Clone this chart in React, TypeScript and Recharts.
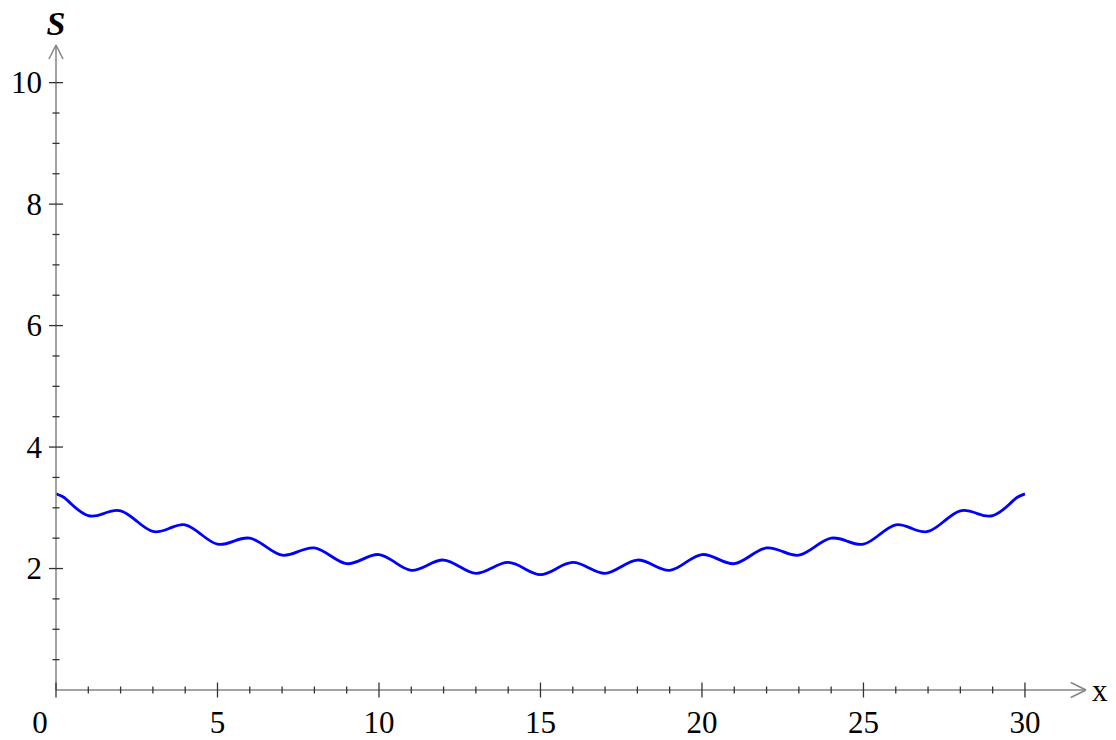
import React from "react";
import { LineChart, Line, XAxis, YAxis, ReferenceLine, ReferenceDot } from "recharts";

// Curve samples (x step 0.5, plus two extra points near the ends)
const X_VALUES = [
  0, 0.25, 0.5, 1, 1.5, 2, 2.5, 3, 3.5, 4, 4.5, 5, 5.5, 6, 6.5, 7, 7.5, 8, 8.5, 9, 9.5,
  10, 10.5, 11, 11.5, 12, 12.5, 13, 13.5, 14, 14.5, 15, 15.5, 16, 16.5, 17, 17.5,
  18, 18.5, 19, 19.5, 20, 20.5, 21, 21.5, 22, 22.5, 23, 23.5, 24, 24.5, 25, 25.5,
  26, 26.5, 27, 27.5, 28, 28.5, 29, 29.5, 29.75, 30,
];
const S_VALUES = [
  3.23, 3.17, 3.05, 2.87, 2.91, 2.95, 2.78, 2.61, 2.66, 2.72, 2.56, 2.4, 2.45, 2.5, 2.36,
  2.22, 2.28, 2.34, 2.21, 2.08, 2.155, 2.23, 2.1, 1.97, 2.055, 2.14, 2.03, 1.92, 2.01,
  2.1, 2.0, 1.9, 2.0, 2.1, 2.01, 1.92, 2.03, 2.14, 2.055, 1.97, 2.1, 2.23, 2.155,
  2.08, 2.21, 2.34, 2.28, 2.22, 2.36, 2.5, 2.45, 2.4, 2.56, 2.72, 2.66, 2.61, 2.78,
  2.95, 2.91, 2.87, 3.05, 3.17, 3.23,
];

const X_TICKS = Array.from({ length: 31 }, (_, i) => i);
const Y_TICKS = Array.from({ length: 20 }, (_, i) => (i + 1) * 0.5);

const X_AXIS_END = 31.89;
const Y_AXIS_END = 10.62;
const X_ARROW_LEN = 0.47;
const X_ARROW_HALF = 0.124;
const Y_ARROW_LEN = 0.23;
const Y_ARROW_HALF = 0.217;

const data = X_VALUES.map((x, i) => ({ x, s: S_VALUES[i] }));

const FONT = "'Liberation Serif', 'Times New Roman', serif";
const AXIS_COLOR = "#858585";
const TICK_COLOR = "#333";

function XTick(props: any) {
  const { x, y, payload } = props;
  const v = payload.value;
  const major = v % 5 === 0;
  const half = major ? 7.5 : 3.5;
  return (
    <g>
      <line x1={x} x2={x} y1={y - half} y2={y + half} stroke={TICK_COLOR} strokeWidth={1.3} />
      {major && (
        <text
          x={x + (v === 0 ? -16 : 0)}
          y={y + 43}
          textAnchor="middle"
          fontFamily={FONT}
          fontSize={31}
          fill="#000"
        >
          {v}
        </text>
      )}
    </g>
  );
}

function YTick(props: any) {
  const { x, y, payload } = props;
  const v = payload.value;
  const major = v % 2 === 0;
  const half = major ? 7 : 3.5;
  return (
    <g>
      <line x1={x - half} x2={x + half} y1={y} y2={y} stroke={TICK_COLOR} strokeWidth={1.3} />
      {major && (
        <text
          x={x - 14}
          y={y + 10.5}
          textAnchor="end"
          fontFamily={FONT}
          fontSize={31}
          fill="#000"
        >
          {v}
        </text>
      )}
    </g>
  );
}

export default function App() {
  return (
    <div style={{ position: "absolute", left: 0, top: 0, width: 1116, height: 740, background: "#fff" }}>
      <LineChart width={1116} height={740} data={data} margin={{ top: 45, right: 30, bottom: 0, left: 0 }}>
        <XAxis
          dataKey="x"
          type="number"
          domain={[0, X_AXIS_END]}
          allowDataOverflow
          ticks={X_TICKS}
          interval={0}
          height={50}
          tickSize={0}
          tickMargin={0}
          tickLine={false}
          axisLine={{ stroke: AXIS_COLOR, strokeWidth: 1.5 }}
          tick={<XTick />}
        />
        <YAxis
          type="number"
          domain={[0, Y_AXIS_END]}
          allowDataOverflow
          ticks={Y_TICKS}
          interval={0}
          width={56}
          tickSize={0}
          tickMargin={0}
          tickLine={false}
          axisLine={{ stroke: AXIS_COLOR, strokeWidth: 1.5 }}
          tick={<YTick />}
        />
        <ReferenceLine
          segment={[{ x: X_AXIS_END - X_ARROW_LEN, y: X_ARROW_HALF }, { x: X_AXIS_END, y: 0 }]}
          stroke={AXIS_COLOR}
          strokeWidth={1.5}
          ifOverflow="visible"
        />
        <ReferenceLine
          segment={[{ x: X_AXIS_END - X_ARROW_LEN, y: -X_ARROW_HALF }, { x: X_AXIS_END, y: 0 }]}
          stroke={AXIS_COLOR}
          strokeWidth={1.5}
          ifOverflow="visible"
        />
        <ReferenceLine
          segment={[{ x: -Y_ARROW_HALF, y: Y_AXIS_END - Y_ARROW_LEN }, { x: 0, y: Y_AXIS_END }]}
          stroke={AXIS_COLOR}
          strokeWidth={1.5}
          ifOverflow="visible"
        />
        <ReferenceLine
          segment={[{ x: Y_ARROW_HALF, y: Y_AXIS_END - Y_ARROW_LEN }, { x: 0, y: Y_AXIS_END }]}
          stroke={AXIS_COLOR}
          strokeWidth={1.5}
          ifOverflow="visible"
        />
        <ReferenceDot
          x={X_AXIS_END}
          y={0}
          r={0}
          fill="none"
          stroke="none"
          ifOverflow="visible"
          label={{ value: "x", position: "right", offset: 6, fontSize: 31, fontFamily: FONT, fill: "#000" }}
        />
        <ReferenceDot
          x={0}
          y={Y_AXIS_END}
          r={0}
          fill="none"
          stroke="none"
          ifOverflow="visible"
          label={{
            value: "S",
            position: "top",
            offset: 10,
            fontSize: 34,
            fontFamily: FONT,
            fontStyle: "italic",
            fontWeight: "bold",
            fill: "#000",
          }}
        />
        <Line
          type="natural"
          dataKey="s"
          stroke="#0000ff"
          strokeWidth={2.8}
          dot={false}
          activeDot={false}
          isAnimationActive={false}
        />
      </LineChart>
    </div>
  );
}
